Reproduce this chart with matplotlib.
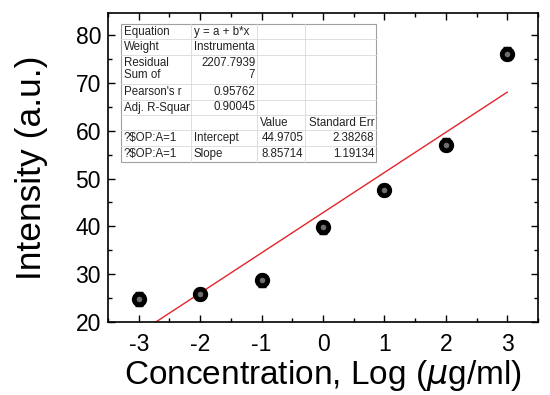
import numpy as np
import matplotlib.pyplot as plt
from matplotlib.patches import Rectangle
from matplotlib.ticker import MultipleLocator

plt.rcParams['font.family'] = ['Liberation Sans', 'DejaVu Sans']

# data
conc_log = [-3, -2, -1, 0, 1, 2, 3]
intensity = [24.8, 25.9, 28.7, 39.8, 47.6, 57.1, 76.1]
err = [1.4, 1.3, 1.3, 1.3, 1.3, 1.3, 1.3]

# fit report table (text as printed in the figure)
tab_rows = [
	["Equation", "y = a + b*x", "", ""],
	["Weight", "Instrumenta", "", ""],
	["Residual\nSum of", "2207.7939\n7", "", ""],
	["Pearson's r", "0.95762", "", ""],
	["Adj. R-Squar", "0.90045", "", ""],
	["", "", "Value", "Standard Err"],
	["?$OP:A=1", "Intercept", "44.9705", "2.38268"],
	["?$OP:A=1", "Slope", "8.85714", "1.19134"],
]
# pixel layout of the table
col_px = [121, 191, 257, 305, 376]
row_px = [24, 39, 55, 84, 100, 115, 130, 146, 162]
right_cols = {(2, 1), (3, 1), (4, 1), (6, 2), (6, 3), (7, 2), (7, 3), (5, 3)}

fig = plt.figure(figsize=(5.5, 3.95), dpi=100)
ax = fig.add_axes([108 / 550, (395 - 322) / 395, 430 / 550, 309 / 395])

x = np.array(conc_log)
y = np.array(intensity)
b, a = np.polyfit(x, y, 1)
xf = np.array([x.min(), x.max()])
ax.plot(xf, a + b * xf, color='#e3242b', lw=1.0, zorder=2)

ax.errorbar(x, y, yerr=err, fmt='none', ecolor='black', elinewidth=1.0,
	capsize=3, capthick=1.0, zorder=3)
ax.plot(x, y, 'o', color='black', ms=10, zorder=4)
ax.plot(x, y, 'o', color='#8a8a8a', ms=4, mew=0, alpha=0.8, zorder=5)

ax.set_xlim(-3.5, 3.5)
ax.set_ylim(20, 84.6)
ax.xaxis.set_major_locator(MultipleLocator(1))
ax.xaxis.set_minor_locator(MultipleLocator(0.5))
ax.yaxis.set_major_locator(MultipleLocator(10))
ax.yaxis.set_minor_locator(MultipleLocator(5))
ax.tick_params(which='both', direction='in', top=True, right=True, width=1.0)
ax.tick_params(which='major', length=5, labelsize=16.5, pad=5)
ax.tick_params(axis='x', which='major', pad=8)
ax.tick_params(which='minor', length=3)
for s in ax.spines.values():
	s.set_linewidth(1.2)

ax.set_xticklabels([f'{int(v)}' for v in ax.get_xticks()])
ax.set_xlabel('Concentration, Log ($\\mu$g/ml)', fontsize=24)
ax.set_ylabel('Intensity (a.u.)', fontsize=25.5)
ax.xaxis.set_label_coords(0.5, -0.118)
ax.yaxis.set_label_coords(-0.14, 0.5)

# table
def fx(px):
	return (px - 108) / 430

def fy(py):
	return (322 - py) / 309

x0, x1 = fx(col_px[0]), fx(col_px[-1])
y0, y1 = fy(row_px[-1]), fy(row_px[0])
ax.add_patch(Rectangle((x0, y0), x1 - x0, y1 - y0, transform=ax.transAxes,
	facecolor='white', edgecolor='#a0a0a0', lw=0.8, zorder=6))
for py in row_px[1:-1]:
	ax.plot([x0, x1], [fy(py), fy(py)], transform=ax.transAxes,
		color='#d8d8d8', lw=0.6, zorder=7)
for px in col_px[1:-1]:
	ax.plot([fx(px), fx(px)], [y0, y1], transform=ax.transAxes,
		color='#d8d8d8', lw=0.6, zorder=7)

for i, row in enumerate(tab_rows):
	for j, txt in enumerate(row):
		if not txt:
			continue
		ym = fy((row_px[i] + row_px[i + 1]) / 2)
		if (i, j) in right_cols:
			xt, ha = fx(col_px[j + 1]) - 0.004, 'right'
		else:
			xt, ha = fx(col_px[j]) + 0.006, 'left'
		ax.text(xt, ym, txt, transform=ax.transAxes, ha=ha, va='center',
			fontsize=8.3, color='#222222', linespacing=1.0, zorder=8)

fig.savefig('out.png', dpi=100)
